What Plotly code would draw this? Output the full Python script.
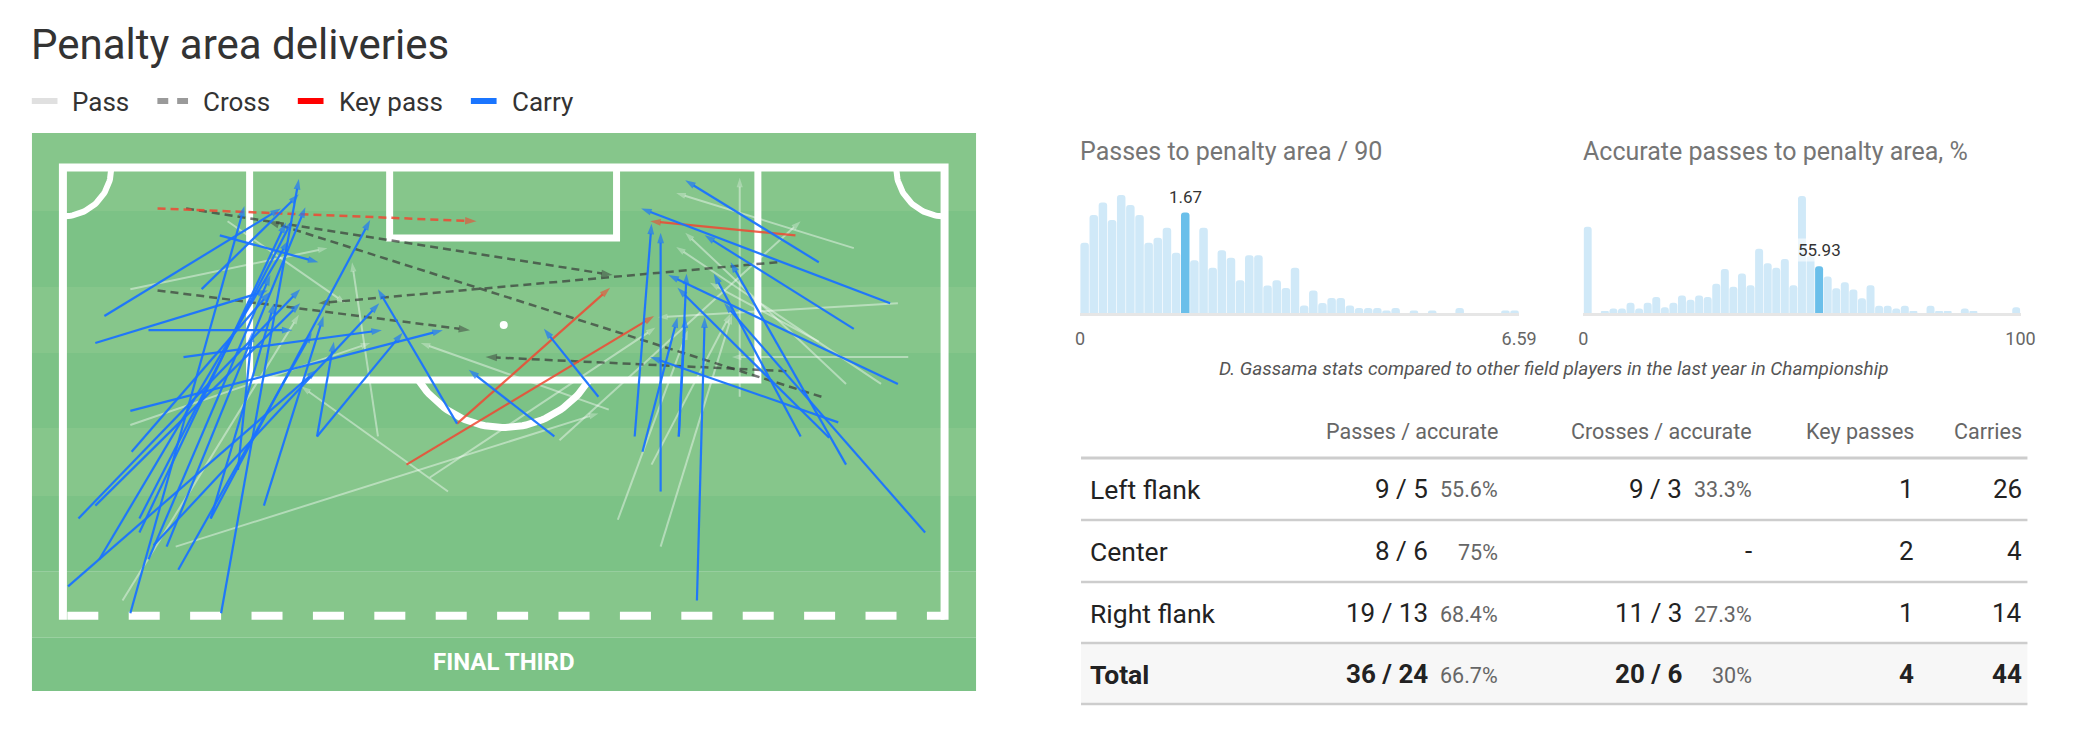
import numpy as np
import plotly.graph_objects as go

W, H = 2092, 746
PAD = 8  # default body margin of the page
FONT = "Roboto"

# ---------- pitch events, metres: x from left touchline, y from goal line ----------
carry_x0 = [5.2, 12.2, 0.4, 1.2, 2.5, 5.9, 5.9, 6.6, 8.0, 11.4, 11.4, 15.5, 5.3, 19.6, 19.6,
            2.5, 6.6, 9.3, 5.2, 10.7, 12.1, 30.4, 37.9, 3.2, 7.0, 8.9, 13.5, 2.8,
            58.3, 63.8, 44.1, 46.1, 61.0, 64.4, 47.5, 59.1, 56.9, 60.4, 66.5, 44.7, 47.5, 48.9, 59.8, 41.3]
carry_y0 = [34.8, 34.8, 32.7, 27.4, 26.4, 27.4, 28.5, 30.6, 29.6, 27.4, 27.4, 26.4, 22.2, 21.0, 21.0,
            13.7, 12.7, 14.8, 19.0, 9.5, 5.3, 20.0, 21.0, 11.6, 29.5, 31.4, 23.6, 30.6,
            7.4, 10.6, 21.0, 25.3, 12.6, 16.9, 21.0, 21.1, 21.0, 23.2, 28.5, 22.2, 21.0, 33.8, 19.9, 17.9]
carry_x1 = [14.0, 18.2, 19.6, 18.3, 18.3, 17.7, 17.2, 16.0, 18.7, 23.7, 16.3, 20.1, 16.0, 20.9, 26.2,
            15.8, 17.7, 24.6, 29.3, 18.2, 19.7, 24.3, 31.3, 16.8, 24.4, 19.2, 14.6, 17.4,
            48.0, 44.6, 45.4, 46.1, 49.5, 46.7, 48.1, 47.4, 50.2, 51.5, 51.0, 47.4, 48.0, 49.5, 45.3, 37.1]
carry_y1 = [3.0, 0.9, 15.8, 9.5, 10.6, 4.1, 4.3, 8.4, 3.1, 4.1, 10.6, 11.6, 9.7, 13.6, 12.9,
            9.6, 12.7, 12.7, 12.7, 2.1, 7.4, 9.5, 15.8, 3.2, 10.6, 12.9, 12.8, 5.7,
            1.0, 3.2, 4.4, 5.1, 5.3, 8.4, 8.3, 9.4, 8.3, 7.4, 10.6, 11.7, 11.7, 11.7, 14.8, 12.6]

pass_x0 = [5.2, 12.7, 24.3, 4.6, 5.2, 42.1, 29.7, 28.3, 8.7, 61.0, 52.2, 64.4, 65.2, 60.4, 63.1, 38.3, 58.3, 45.4, 46.1, 42.8]
pass_y0 = [9.5, 4.2, 21.0, 33.8, 20.1, 18.9, 25.3, 24.2, 29.6, 6.3, 17.9, 10.6, 14.8, 16.9, 16.9, 21.3, 13.6, 23.2, 29.6, 27.5]
pass_x1 = [20.4, 21.8, 22.3, 18.2, 23.7, 27.6, 18.4, 45.7, 41.3, 47.3, 52.2, 45.9, 51.6, 48.0, 47.3, 56.9, 49.9, 51.5, 51.6, 48.2]
pass_y1 = [6.3, 10.6, 7.4, 11.5, 13.7, 13.7, 17.1, 12.5, 19.2, 2.0, 0.8, 11.7, 14.8, 5.1, 6.2, 4.2, 9.0, 11.4, 11.5, 12.7]

cross_x0 = [9.5, 58.5, 55.1, 7.3, 55.8]
cross_y0 = [3.2, 17.9, 7.4, 9.6, 15.9]
cross_x1 = [42.4, 15.8, 19.7, 31.4, 32.6]
cross_y1 = [8.4, 4.2, 10.6, 12.7, 14.8]

key_x0 = [7.3, 56.5, 30.4, 26.5]
key_y0 = [3.2, 5.3, 20.0, 23.2]
key_x1 = [31.9, 45.3, 42.2, 45.6]
key_y1 = [4.2, 4.2, 9.4, 11.6]
key_is_cross = [True, False, False, False]

# ---------- distributions ----------
hist1_counts = [28, 39, 44, 37, 47, 43, 39, 28, 30, 34, 24, 40, 21, 34, 18, 25, 22, 13, 23, 23, 11, 13, 10, 18,
                3, 9, 4, 6, 6, 3, 2, 2, 2, 1, 2, 0, 1, 0, 1, 0, 0, 2, 0, 0, 0, 0, 1, 1]
hist1_max = 6.59
hist1_player = 1.67
hist1_bin = 11

hist2_counts = [59, 0, 1, 3, 3, 7, 3, 7, 11, 4, 7, 12, 9, 12, 11, 20, 30, 18, 27, 19, 44, 34, 31, 37, 19, 80,
                39, 32, 25, 17, 21, 16, 10, 19, 5, 5, 3, 5, 1, 0, 5, 1, 1, 0, 3, 1, 0, 0, 0, 0, 4]
hist2_max = 100
hist2_player = 55.93
hist2_bin = 27

# ---------- table ----------
zones = ["Left flank", "Center", "Right flank"]
passes = [9, 8, 19]
passes_acc = [5, 6, 13]
crosses = [9, 0, 11]
crosses_acc = [3, 0, 3]
key_passes = [1, 2, 1]
carries = [26, 4, 14]

CARRY = "rgba(26,115,255,0.95)"
PASS = "rgba(255,255,255,0.42)"
CROSS = "rgba(55,55,55,0.68)"
KEY = "rgba(240,72,50,0.85)"
LIGHT_GREEN = "rgb(134,198,139)"
DARK_GREEN = "rgb(124,194,134)"

FW, FH = W - 2 * PAD, H - 2 * PAD


def fx(px):
    return (px - PAD) / FW


def fy(py):
    return 1 - (py - PAD) / FH


def arrows(x0, y0, x1, y1, color, width, size, dash="solid"):
    xs, ys = [], []
    for a, b, c, d in zip(x0, y0, x1, y1):
        xs += [a, c, None]
        ys += [b, d, None]
    return go.Scatter(x=xs, y=ys, mode="lines+markers",
                      line=dict(color=color, width=width, dash=dash),
                      marker=dict(symbol="arrow", size=[0, size, 0] * len(x0), angleref="previous",
                                  color=color, line=dict(width=0)),
                      hoverinfo="skip", showlegend=False, xaxis="x", yaxis="y")


def pitch_line(x, y, width=7, dash="solid"):
    return go.Scatter(x=x, y=y, mode="lines", line=dict(color="white", width=width, dash=dash),
                      hoverinfo="skip", showlegend=False, xaxis="x", yaxis="y")


fig = go.Figure()

# pitch stripes
stripes = [-2.69, 3.40, 9.33, 14.48, 20.34, 25.65, 31.57, 36.72, 40.87]
for i in range(len(stripes) - 1):
    fig.add_shape(type="rect", xref="x", yref="y", x0=-2.40, x1=70.44, y0=stripes[i], y1=stripes[i + 1],
                  fillcolor=LIGHT_GREEN if i % 2 == 0 else DARK_GREEN, line=dict(width=0), layer="below")

# pitch markings
fig.add_trace(pitch_line([0, 0, 68, 68], [35.3, 0, 0, 35.3], width=8))
fig.add_trace(pitch_line([14.4, 14.4, 53.6, 53.6], [0, 16.6, 16.6, 0]))
fig.add_trace(pitch_line([25.2, 25.2, 42.7, 42.7], [0, 5.5, 5.5, 0]))
fig.add_trace(pitch_line([0.34, 68], [35.0, 35.0], width=8, dash="31px,30.4px"))
t = np.radians(np.linspace(32.5, 147.5, 60))
fig.add_trace(pitch_line(34.0 + 7.8 * np.cos(t), 12.3 + 8.0 * np.sin(t)))
q = np.radians(np.linspace(0, 90, 40))
fig.add_trace(pitch_line(3.74 * np.cos(q), 3.82 * np.sin(q), width=6))
fig.add_trace(pitch_line(68 - 3.74 * np.cos(q), 3.82 * np.sin(q), width=6))
fig.add_trace(go.Scatter(x=[34.0], y=[12.3], mode="markers", marker=dict(color="white", size=8),
                         hoverinfo="skip", showlegend=False))

# events
fig.add_trace(arrows(pass_x0, pass_y0, pass_x1, pass_y1, PASS, 2, 10))
fig.add_trace(arrows(cross_x0, cross_y0, cross_x1, cross_y1, CROSS, 2.5, 12, dash="8px,5px"))
kc = [i for i, c in enumerate(key_is_cross) if c]
kp = [i for i, c in enumerate(key_is_cross) if not c]
pick = lambda arr, idx: [arr[i] for i in idx]
fig.add_trace(arrows(pick(key_x0, kc), pick(key_y0, kc), pick(key_x1, kc), pick(key_y1, kc), KEY, 2.5, 12,
                     dash="8px,5px"))
fig.add_trace(arrows(pick(key_x0, kp), pick(key_y0, kp), pick(key_x1, kp), pick(key_y1, kp), KEY, 2.2, 11))
fig.add_trace(arrows(carry_x0, carry_y0, carry_x1, carry_y1, CARRY, 2.2, 11))

fig.add_annotation(x=34.0, y=38.6, xref="x", yref="y", text="<b>FINAL THIRD</b>", showarrow=False,
                   font=dict(family=FONT, size=24, color="white"))

# histograms
for counts, vmax, player, pbin, xa, ya in [(hist1_counts, hist1_max, hist1_player, hist1_bin, "x2", "y2"),
                                           (hist2_counts, hist2_max, hist2_player, hist2_bin, "x3", "y3")]:
    n = len(counts)
    w = vmax / n
    centers = (np.arange(n) + 0.5) * w
    colors = ["rgb(106,191,234)" if i == pbin else "rgb(208,233,248)" for i in range(n)]
    fig.add_trace(go.Bar(x=centers, y=counts, width=w * 0.93,
                         marker=dict(color=colors, cornerradius=3, line=dict(width=0)),
                         hoverinfo="skip", showlegend=False, xaxis=xa, yaxis=ya))
    fig.add_annotation(x=centers[pbin], y=counts[pbin], xref=xa, yref=ya, text=str(player), showarrow=False,
                       yanchor="bottom", yshift=4, bgcolor="rgba(255,255,255,0.6)",
                       font=dict(family=FONT, size=17, color="#333"))

hist_axis = dict(showgrid=False, zeroline=False, showline=True, linecolor="#e6e6e6", linewidth=3,
                 ticks="outside", ticklen=7, tickcolor="rgba(0,0,0,0)",
                 tickfont=dict(family=FONT, size=18, color="#666"), fixedrange=True)

fig.update_layout(
    width=FW, height=FH, margin=dict(l=0, r=0, t=0, b=0),
    paper_bgcolor="white", plot_bgcolor="rgba(0,0,0,0)",
    font=dict(family=FONT, color="#333"),
    xaxis=dict(domain=[fx(27), fx(982)], range=[-2.40, 70.44], visible=False, fixedrange=True),
    yaxis=dict(domain=[fy(691), fy(133)], range=[40.87, -2.69], visible=False, fixedrange=True),
    xaxis2=dict(domain=[fx(1087), fx(1531)], range=[0, hist1_max], anchor="y2",
                tickvals=[0, hist1_max], ticktext=["0", str(hist1_max)], **hist_axis),
    yaxis2=dict(domain=[fy(313), fy(190)], range=[0, 49], visible=False, anchor="x2", fixedrange=True),
    xaxis3=dict(domain=[fx(1596), fx(2038)], range=[0, hist2_max], anchor="y3",
                tickvals=[0, hist2_max], ticktext=["0", str(hist2_max)], **hist_axis),
    yaxis3=dict(domain=[fy(313), fy(190)], range=[0, 84.1], visible=False, anchor="x3", fixedrange=True),
)


def text(px, py, s, size, color="#333", anchor="left", **kw):
    fig.add_annotation(x=fx(px), y=fy(py), xref="paper", yref="paper", text=s, showarrow=False,
                       xanchor=anchor, yanchor="middle", font=dict(family=FONT, size=size, color=color), **kw)


# title and legend
text(24, 45, "Penalty area deliveries", 42)
legend = [("Pass", "#e0e0e0", 27, 68), ("Cross", "#9a9a9a", 154, 200), ("Key pass", "#ff0000", 296, 338),
          ("Carry", "#1a75ff", 471, 513)]
for label, color, lx, tx in legend:
    if label == "Cross":
        for dx in (0, 20):
            fig.add_shape(type="rect", xref="paper", yref="paper", x0=fx(lx + dx), x1=fx(lx + dx + 11),
                          y0=fy(104), y1=fy(98), fillcolor=color, line=dict(width=0))
    else:
        fig.add_shape(type="rect", xref="paper", yref="paper", x0=fx(lx), x1=fx(lx + 26),
                      y0=fy(104), y1=fy(98), fillcolor=color, line=dict(width=0))
    text(tx - 2, 102, label, 26)

# histogram titles and caption
text(1085, 152, "Passes to penalty area / 90", 25, color="#757575")
text(1594, 152, "Accurate passes to penalty area, %", 25, color="#757575")
text(1566, 368, "<i>D. Gassama stats compared to other field players in the last year in Championship</i>", 19,
     color="#555", anchor="center")


# table
def pct(a, b):
    return f"{100 * a / b:.1f}".rstrip("0").rstrip(".") + "%"


tx0, tx1 = 1088, 2045
fig.add_shape(type="rect", xref="paper", yref="paper", x0=fx(tx0), x1=fx(tx1), y0=fy(704), y1=fy(643),
              fillcolor="#f7f7f7", line=dict(width=0), layer="below")
for ly, lw in [(458, 3), (520, 2.5), (582, 2.5), (643, 2.5), (704, 2.5)]:
    fig.add_shape(type="line", xref="paper", yref="paper", x0=fx(tx0), x1=fx(tx1), y0=fy(ly), y1=fy(ly),
                  line=dict(color="#cdcdcd", width=lw))

headers = [("Passes / accurate", 1512), ("Crosses / accurate", 1769), ("Key passes", 1932), ("Carries", 2042)]
for h, hx in headers:
    text(hx, 432, h, 21.5, color="#666", anchor="right")

rows = list(zip(zones, passes, passes_acc, crosses, crosses_acc, key_passes, carries))
rows.append(("Total", sum(passes), sum(passes_acc), sum(crosses), sum(crosses_acc), sum(key_passes), sum(carries)))
row_y = [489, 551, 613, 674]
for (zone, p, pa, c, ca, k, cr), ry in zip(rows, row_y):
    b = (lambda s: f"<b>{s}</b>") if zone == "Total" else (lambda s: s)
    text(1095, ry, b(zone), 26.5, color="#222")
    text(1441, ry, b(f"{p} / {pa}"), 26, color="#222", anchor="right")
    text(1512, ry + 1, pct(pa, p), 21.5, color="#666", anchor="right")
    if c:
        text(1698, ry, b(f"{c} / {ca}"), 26, color="#222", anchor="right")
        text(1769, ry + 1, pct(ca, c), 21.5, color="#666", anchor="right")
    else:
        text(1769, ry, "-", 26, color="#222", anchor="right")
    text(1932, ry, b(str(k)), 26, color="#222", anchor="right")
    text(2042, ry, b(str(cr)), 26, color="#222", anchor="right")

fig.write_html("out.html", config={"displayModeBar": False})
